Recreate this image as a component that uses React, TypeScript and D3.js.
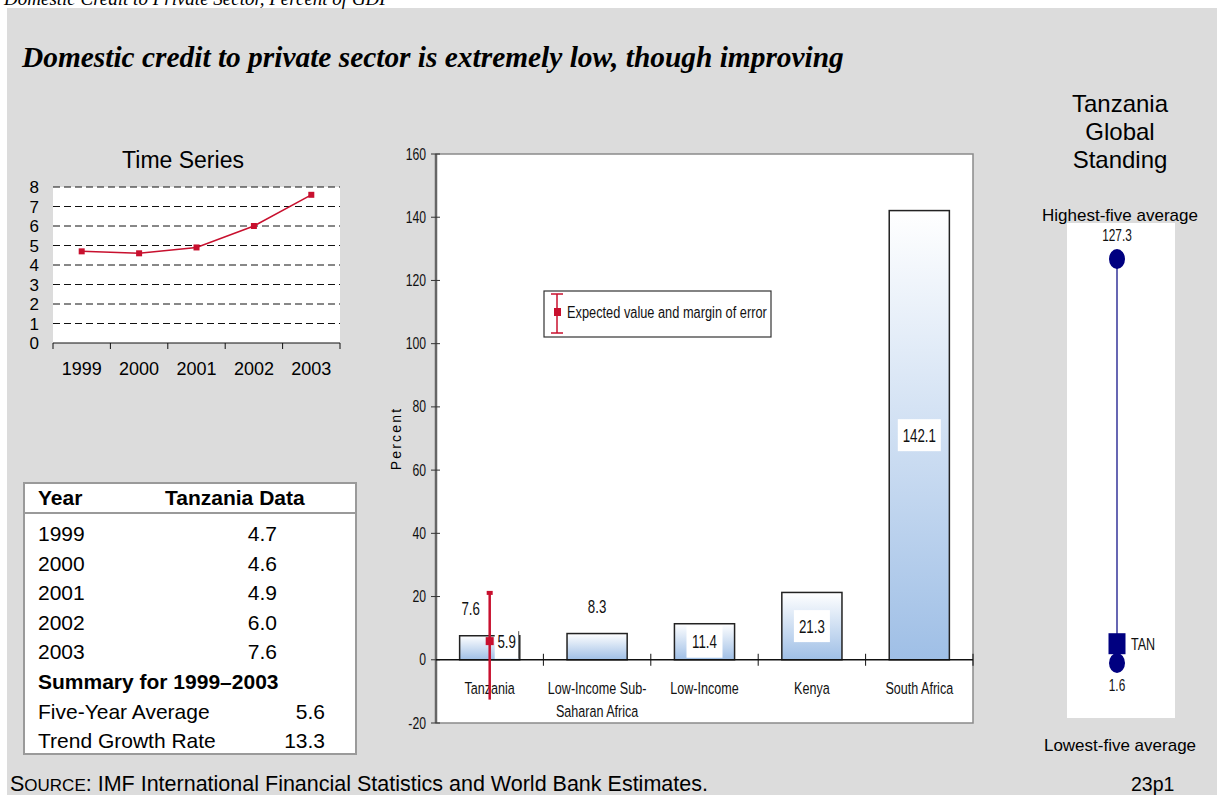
import React from "react";
import * as d3 from "d3";

// ---- data ----
const years = ["1999", "2000", "2001", "2002", "2003"];
const tanzaniaSeries = [4.7, 4.6, 4.9, 6.0, 7.6];
const seriesTicks = [0, 1, 2, 3, 4, 5, 6, 7, 8];

const summaryLabels = ["Five-Year Average", "Trend Growth Rate"];
const summaryValues = ["5.6", "13.3"];

const categories = ["Tanzania", "Low-Income Sub-Saharan Africa", "Low-Income", "Kenya", "South Africa"];
const categoryLines = [["Tanzania"], ["Low-Income Sub-", "Saharan Africa"], ["Low-Income"], ["Kenya"], ["South Africa"]];
const creditValues = [7.6, 8.3, 11.4, 21.3, 142.1];
const percentTicks = [-20, 0, 20, 40, 60, 80, 100, 120, 140, 160];

// expected value for Tanzania with its margin of error
const expectedValue = 5.9;
const errorLow = -12.6;
const errorHigh = 21.0;

// global standing
const highestFive = 127.3;
const lowestFive = 1.6;
const tanzaniaStanding = 7.6;

// ---- styling helpers ----
const ARIAL = "Arial, 'Liberation Sans', Helvetica, sans-serif";
const SERIF = "'Times New Roman', 'Liberation Serif', serif";
const RED = "#c8102e";
const NAVY = "#000080";

// condensed sans text: regular sans squeezed horizontally
function NText({
  x,
  y,
  size,
  anchor = "start",
  children,
}: {
  x: number;
  y: number;
  size: number;
  anchor?: "start" | "middle" | "end";
  children: React.ReactNode;
}) {
  return (
    <text
      transform={`translate(${x},${y}) scale(0.74,1)`}
      textAnchor={anchor}
      fontFamily={ARIAL}
      fontSize={size}
      fill="#111"
    >
      {children}
    </text>
  );
}

function TimeSeries() {
  const x = d3.scaleBand<string>().domain(years).range([53, 340]);
  const y = d3.scaleLinear().domain([0, 8]).range([343, 187]);
  const line = d3
    .line<number>()
    .x((_, i) => (x(years[i]) as number) + x.bandwidth() / 2)
    .y((d) => y(d));
  const bounds = d3.range(years.length + 1).map((i) => 53 + i * x.step());
  return (
    <g>
      <text x={183} y={168} textAnchor="middle" fontFamily={ARIAL} fontSize={23}>
        Time Series
      </text>
      <rect x={53} y={187} width={287} height={156} fill="#fff" />
      {seriesTicks.slice(1).map((t) => (
        <line key={t} x1={53} x2={340} y1={y(t)} y2={y(t)} stroke="#111" strokeWidth={1} strokeDasharray="7,4" />
      ))}
      <line x1={53} x2={340} y1={y(0)} y2={y(0)} stroke="#111" strokeWidth={1.2} />
      {bounds.map((b, i) => (
        <line key={i} x1={b} x2={b} y1={y(0)} y2={y(0) + 6} stroke="#111" />
      ))}
      {seriesTicks.map((t) => (
        <text key={t} x={39} y={y(t) + 6} textAnchor="end" fontFamily={ARIAL} fontSize={17}>
          {t}
        </text>
      ))}
      {years.map((yr) => (
        <text key={yr} x={(x(yr) as number) + x.bandwidth() / 2} y={375} textAnchor="middle" fontFamily={ARIAL} fontSize={18}>
          {yr}
        </text>
      ))}
      <path d={line(tanzaniaSeries) || ""} fill="none" stroke={RED} strokeWidth={1.5} />
      {tanzaniaSeries.map((v, i) => (
        <rect
          key={i}
          x={(x(years[i]) as number) + x.bandwidth() / 2 - 3}
          y={y(v) - 3}
          width={6}
          height={6}
          fill={RED}
        />
      ))}
    </g>
  );
}

function DataTable() {
  const left = 24;
  const top = 483;
  const pitch = 29.6;
  const fs = 21;
  const rowCenter = (i: number) => 533 + i * pitch;
  return (
    <g fontFamily={ARIAL}>
      <rect x={left} y={top} width={332} height={271} fill="#fff" stroke="#9a9a9a" strokeWidth={2} />
      <line x1={left} x2={left + 332} y1={513} y2={513} stroke="#9a9a9a" strokeWidth={2} />
      <text x={38} y={505} fontSize={fs} fontWeight="bold">Year</text>
      <text x={165} y={505} fontSize={fs} fontWeight="bold">Tanzania Data</text>
      {years.map((yr, i) => (
        <g key={yr}>
          <text x={38} y={rowCenter(i) + 8} fontSize={fs}>{yr}</text>
          <text x={277} y={rowCenter(i) + 8} fontSize={fs} textAnchor="end">
            {d3.format(".1f")(tanzaniaSeries[i])}
          </text>
        </g>
      ))}
      <text x={38} y={rowCenter(5) + 8} fontSize={fs} fontWeight="bold">Summary for 1999–2003</text>
      {summaryLabels.map((lab, i) => (
        <g key={lab}>
          <text x={38} y={rowCenter(6 + i) + 8} fontSize={fs}>{lab}</text>
          <text x={325} y={rowCenter(6 + i) + 8} fontSize={fs} textAnchor="end">{summaryValues[i]}</text>
        </g>
      ))}
    </g>
  );
}

function CreditBars() {
  const left = 436;
  const right = 973;
  const x = d3.scaleBand<string>().domain(categories).range([left, right]).paddingInner(0.44).paddingOuter(0.22);
  const y = d3.scaleLinear().domain([-20, 160]).range([723, 154]);
  const step = x.step();
  const zero = y(0);
  const center = (c: string) => (x(c) as number) + x.bandwidth() / 2;
  // label placement: first two bars carry their value above, the rest inside at mid-height
  const labelMode = ["above", "above", "inside", "inside", "inside"];
  const labelDx = [-19, 0, 0, 0, 0];
  const errX = center(categories[0]);
  return (
    <g>
      <defs>
        <linearGradient id="barFill" x1="0" y1="0" x2="0" y2="1">
          <stop offset="0" stopColor="#ffffff" />
          <stop offset="1" stopColor="#9fbfe6" />
        </linearGradient>
      </defs>
      <rect x={left} y={y(160)} width={right - left} height={y(-20) - y(160)} fill="#fff" stroke="#8a8a8a" strokeWidth={1.5} />
      <line x1={left} x2={left} y1={y(160)} y2={y(-20)} stroke="#666" strokeWidth={2.5} />
      {percentTicks.map((t) => (
        <g key={t}>
          <line x1={left - 5} x2={left + 4} y1={y(t)} y2={y(t)} stroke="#333" />
          <NText x={426} y={y(t) + 5.5} size={16.5} anchor="end">
            {t}
          </NText>
        </g>
      ))}
      <text
        transform={`translate(401,${(y(60) + y(80)) / 2}) rotate(-90)`}
        textAnchor="middle"
        fontFamily={ARIAL}
        fontSize={14}
        letterSpacing={2.2}
      >
        Percent
      </text>
      {categories.map((c, i) => (
        <rect
          key={c}
          x={x(c) as number}
          y={y(creditValues[i])}
          width={x.bandwidth()}
          height={zero - y(creditValues[i])}
          fill="url(#barFill)"
          stroke="#222"
          strokeWidth={1.5}
        />
      ))}
      <line x1={left} x2={right} y1={zero} y2={zero} stroke="#111" strokeWidth={1.5} />
      {d3.range(1, categories.length + 1).map((i) => (
        <line key={i} x1={left + i * step} x2={left + i * step} y1={zero - 6} y2={zero + 6} stroke="#111" />
      ))}
      {categories.map((c, i) => {
        const v = creditValues[i];
        const cx = center(c) + labelDx[i];
        const txt = d3.format(".1f")(v);
        if (labelMode[i] === "above") {
          return (
            <NText key={c} x={cx} y={y(v) - 21} size={18} anchor="middle">
              {txt}
            </NText>
          );
        }
        const cy = y(v / 2);
        const w = txt.length * 7 + 8;
        return (
          <g key={c}>
            <rect x={cx - w / 2} y={cy - 16} width={w} height={32} fill="#fff" />
            <NText x={cx} y={cy + 6.5} size={18} anchor="middle">
              {txt}
            </NText>
          </g>
        );
      })}
      {categoryLines.map((lines, i) =>
        lines.map((l, j) => (
          <NText key={`${i}-${j}`} x={center(categories[i])} y={694 + j * 23} size={17} anchor="middle">
            {l}
          </NText>
        ))
      )}
      {/* expected value with margin of error */}
      <g>
        <rect x={errX + 5} y={y(expectedValue) - 11} width={24} height={zero - y(expectedValue) + 10} fill="#fff" />
        <line x1={errX + 29} x2={errX + 29} y1={y(expectedValue) - 10} y2={zero - 1} stroke="#555" strokeWidth={1} />
        <NText x={errX + 17} y={y(expectedValue) + 6.5} size={18} anchor="middle">
          {d3.format(".1f")(expectedValue)}
        </NText>
        <line x1={errX} x2={errX} y1={y(errorHigh)} y2={y(errorLow)} stroke={RED} strokeWidth={2.5} />
        <rect x={errX - 3} y={y(errorHigh) - 2.5} width={6} height={4} fill={RED} />
        <rect x={errX - 4} y={y(expectedValue) - 4} width={8} height={8} fill={RED} />
      </g>
      {/* legend */}
      <g>
        <rect x={544} y={291} width={227} height={46} fill="#fff" stroke="#333" strokeWidth={1.2} />
        <line x1={557} x2={557} y1={294} y2={333} stroke={RED} strokeWidth={1.5} />
        <line x1={551} x2={563} y1={294} y2={294} stroke={RED} strokeWidth={1.5} />
        <line x1={551} x2={563} y1={333} y2={333} stroke={RED} strokeWidth={1.5} />
        <rect x={554} y={308} width={7} height={8} fill={RED} />
        <NText x={567} y={318} size={17.3}>
          Expected value and margin of error
        </NText>
      </g>
    </g>
  );
}

function GlobalStanding() {
  const y = d3.scaleLinear().domain([lowestFive, highestFive]).range([663, 259]);
  const cx = 1117;
  return (
    <g fontFamily={ARIAL}>
      {["Tanzania", "Global", "Standing"].map((l, i) => (
        <text key={l} x={1120} y={112 + i * 28} textAnchor="middle" fontSize={24}>
          {l}
        </text>
      ))}
      <text x={1120} y={221} textAnchor="middle" fontSize={17}>Highest-five average</text>
      <rect x={1067} y={223} width={108} height={495} fill="#fff" />
      <line x1={cx} x2={cx} y1={y(highestFive)} y2={y(tanzaniaStanding)} stroke={NAVY} strokeWidth={1.2} />
      <ellipse cx={cx} cy={y(highestFive)} rx={8} ry={10} fill={NAVY} />
      <NText x={cx} y={241} size={16} anchor="middle">
        {highestFive.toFixed(1)}
      </NText>
      <ellipse cx={cx} cy={y(lowestFive)} rx={8} ry={10} fill={NAVY} />
      <rect x={cx - 8.5} y={y(tanzaniaStanding) - 10.5} width={17} height={21} fill={NAVY} />
      <NText x={1131} y={y(tanzaniaStanding) + 6} size={17}>TAN</NText>
      <NText x={cx} y={691} size={16} anchor="middle">
        {lowestFive.toFixed(1)}
      </NText>
      <text x={1120} y={751} textAnchor="middle" fontSize={17}>Lowest-five average</text>
    </g>
  );
}

export default function App() {
  return (
    <svg
      width={1217}
      height={795}
      viewBox="0 0 1217 795"
      style={{ position: "absolute", left: 0, top: 0, background: "#fff" }}
    >
      <rect x={7} y={8} width={1210} height={787} fill="#dcdcdc" />
      <text x={4} y={5} fontFamily={SERIF} fontStyle="italic" fontSize={19}>
        Domestic Credit to Private Sector, Percent of GDP
      </text>
      <text x={22} y={67} fontFamily={SERIF} fontStyle="italic" fontWeight="bold" fontSize={29.4}>
        Domestic credit to private sector is extremely low, though improving
      </text>
      <TimeSeries />
      <DataTable />
      <CreditBars />
      <GlobalStanding />
      <text x={10} y={791} fontFamily={ARIAL} fontSize={21.5}>
        S<tspan fontSize={17}>OURCE</tspan>: IMF International Financial Statistics and World Bank Estimates.
      </text>
      <text x={1131} y={791} fontFamily={ARIAL} fontSize={19.5}>23p1</text>
    </svg>
  );
}
